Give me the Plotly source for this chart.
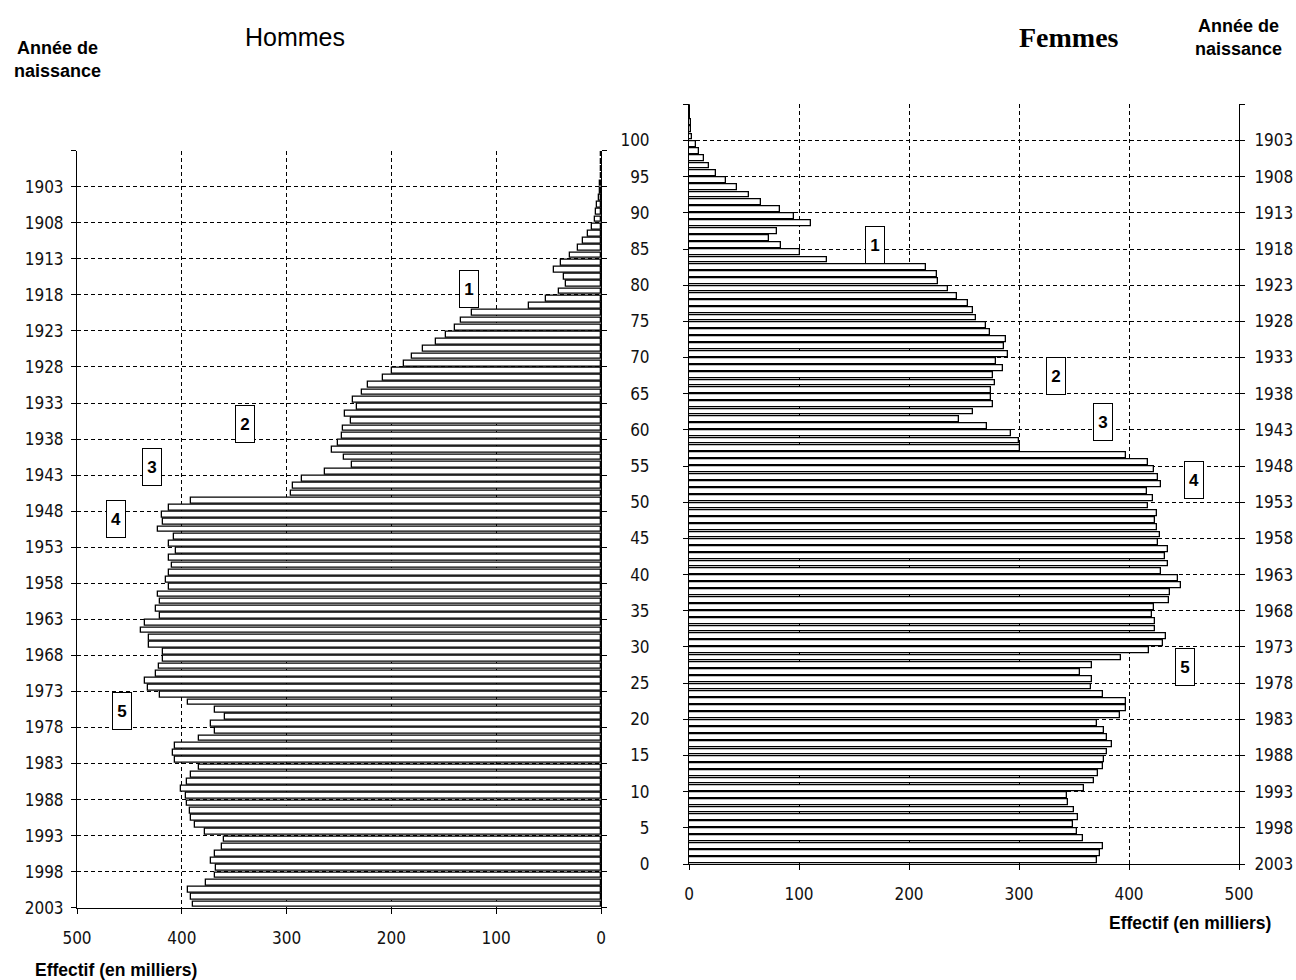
import plotly.graph_objects as go

# ---- data (population in thousands, by age 0..104, France 2004) ----
ages = list(range(0, 105))
hommes = [389.2, 391.5, 393.7, 376.8, 368.5, 367.7, 371.9, 368.5, 362.1, 359.8,
          377.9, 387.0, 391.5, 391.9, 394.9, 396.4, 400.5, 394.9, 391.5, 383.6,
          406.2, 408.4, 406.2, 383.6, 368.5, 371.9, 358.7, 368.5, 393.7, 421.2,
          432.5, 434.8, 424.6, 422.0, 417.9, 417.9, 431.4, 431.4, 439.3, 434.8,
          421.2, 424.6, 421.2, 423.1, 412.2, 415.2, 412.2, 409.2, 412.2, 405.4,
          412.2, 407.7, 422.4, 417.9, 418.6, 411.8, 391.5, 295.8, 293.5, 285.6,
          263.8, 237.8, 245.3, 256.6, 251.3, 247.6, 246.4, 238.9, 244.2, 233.2,
          236.2, 228.3, 222.3, 208.0, 199.3, 188.4, 180.5, 170.3, 157.5, 148.0,
          139.0, 133.4, 123.2, 68.6, 52.4, 40.0, 33.2, 35.4, 44.5, 37.7,
          29.8, 21.9, 17.3, 12.4, 9.0, 5.7, 4.5, 3.4, 2.3, 1.1,
          0.6, 0.4, 0.2, 0.1, 0.05]
femmes = [371.0, 374.0, 376.2, 358.4, 352.7, 349.3, 353.8, 350.4, 344.7, 343.6,
          359.5, 368.3, 371.7, 376.0, 377.4, 379.7, 384.2, 379.7, 377.4, 371.0,
          392.0, 397.0, 397.0, 376.0, 365.0, 366.0, 355.0, 366.0, 392.6, 418.4,
          430.5, 434.0, 424.0, 424.0, 420.6, 423.0, 436.2, 437.4, 447.2, 444.2,
          429.4, 435.8, 432.8, 435.8, 426.4, 427.9, 425.2, 423.7, 425.2, 417.2,
          421.8, 416.0, 429.4, 426.4, 422.5, 417.2, 397.0, 301.0, 300.3, 292.3,
          271.0, 245.6, 257.8, 276.8, 274.5, 274.5, 277.9, 276.8, 285.5, 279.4,
          290.0, 286.6, 287.8, 273.3, 270.3, 261.2, 258.5, 253.2, 243.4, 235.4,
          226.7, 225.5, 215.6, 125.0, 100.6, 83.5, 72.5, 80.0, 110.5, 95.0,
          82.8, 65.0, 54.7, 43.3, 33.8, 24.3, 17.8, 13.3, 8.7, 6.5,
          3.0, 2.0, 1.5, 1.0, 0.5]

age_ticks = list(range(0, 101, 5))
year_labels = [str(2003 - a) for a in age_ticks]
age_labels = [str(a) for a in age_ticks]
value_ticks = [0, 100, 200, 300, 400, 500]

# annotations: (label, value, age)
notes_h = [("1", 126, 85.8), ("2", 340, 67.1), ("3", 428, 61.1), ("4", 463, 53.9), ("5", 457, 27.3)]
notes_f = [("1", 169, 85.6), ("2", 334, 67.4), ("3", 376, 61.1), ("4", 459, 53.1), ("5", 451, 27.2)]

W, H = 1296, 980
def fx(px): return px / W
def fy(py): return 1 - py / H

tickfont = dict(family="Liberation Sans Narrow, Arial Narrow, DejaVu Sans Condensed, sans-serif",
                size=17, color="#111")
bold = "Liberation Sans, Arial, sans-serif"
dash = "4px,3px"

ypos = [a + 0.5 for a in ages]

fig = go.Figure()
fig.add_trace(go.Bar(x=hommes, y=ypos, orientation="h", width=0.8,
                     marker=dict(color="white", line=dict(color="black", width=1.3)),
                     xaxis="x", yaxis="y", showlegend=False))
fig.add_trace(go.Bar(x=femmes, y=ypos, orientation="h", width=0.8,
                     marker=dict(color="white", line=dict(color="black", width=1.3)),
                     xaxis="x2", yaxis="y2", showlegend=False))
fig.add_trace(go.Scatter(x=[None], y=[None], xaxis="x2", yaxis="y3", showlegend=False,
                         hoverinfo="skip"))

ytv = age_ticks + [105]
common_y = dict(range=[0, 105], tickvals=ytv, showgrid=True, gridcolor="black",
                griddash=dash, gridwidth=1, showline=True, linecolor="black", linewidth=1,
                ticks="outside", ticklen=5, tickcolor="black", tickfont=tickfont,
                zeroline=False, automargin=False)
common_x = dict(tickvals=value_ticks, showgrid=True, gridcolor="black", griddash=dash,
                gridwidth=1, showline=True, linecolor="black", linewidth=1,
                ticks="outside", ticklen=5, tickcolor="black", tickfont=tickfont,
                zeroline=False, ticklabelstandoff=10, automargin=False)

fig.update_layout(
    width=W, height=H, margin=dict(l=0, r=0, t=0, b=0, autoexpand=False),
    paper_bgcolor="white", plot_bgcolor="white", bargap=0,
    xaxis=dict(domain=[fx(77), fx(601)], range=[500, 0], anchor="y", **common_x),
    yaxis=dict(domain=[fy(907.7), fy(150.7)], anchor="x", side="left",
               ticktext=year_labels + [""], mirror="ticks", ticklabelstandoff=4, **common_y),
    xaxis2=dict(domain=[fx(689), fx(1239)], range=[0, 500], anchor="y2", **common_x),
    yaxis2=dict(domain=[fy(864), fy(104.3)], anchor="x2", side="left",
                ticktext=age_labels + [""], ticklabelstandoff=30, **common_y),
    yaxis3=dict(overlaying="y2", anchor="x2", side="right", range=[0, 105],
                tickvals=ytv, ticktext=year_labels + [""], showgrid=False,
                showline=True, linecolor="black", linewidth=1, ticks="outside",
                ticklen=5, tickcolor="black", tickfont=tickfont, zeroline=False,
                ticklabelstandoff=6, automargin=False),
)

anns = []
for lab, v, a in notes_h:
    anns.append(dict(x=v, y=a, xref="x", yref="y", text="<b>%s</b>" % lab, showarrow=False,
                     bgcolor="white", bordercolor="black", borderwidth=1, borderpad=0,
                     width=18, height=36, font=dict(family=bold, size=17, color="black")))
for lab, v, a in notes_f:
    anns.append(dict(x=v, y=a, xref="x2", yref="y2", text="<b>%s</b>" % lab, showarrow=False,
                     bgcolor="white", bordercolor="black", borderwidth=1, borderpad=0,
                     width=18, height=36, font=dict(family=bold, size=17, color="black")))

def ptext(px, py, text, font):
    return dict(x=fx(px), y=fy(py), xref="paper", yref="paper", text=text, showarrow=False,
                xanchor="center", yanchor="middle", font=font)

anns += [
    ptext(295, 37, "Hommes", dict(family="Liberation Sans, Arial, sans-serif", size=25, color="black")),
    ptext(1069, 37, "<b>Femmes</b>", dict(family="Liberation Serif, Times New Roman, serif", size=28, color="black")),
    ptext(57, 60, "<b>Année de<br>naissance</b>", dict(family=bold, size=18, color="black")),
    ptext(1238, 37, "<b>Année de<br>naissance</b>", dict(family=bold, size=18, color="black")),
    ptext(116, 970, "<b>Effectif (en milliers)</b>", dict(family=bold, size=17.5, color="black")),
    ptext(1190, 923, "<b>Effectif (en milliers)</b>", dict(family=bold, size=17.5, color="black")),
]
fig.update_layout(annotations=anns)

fig.write_html(
    "out.html",
    config={"displayModeBar": False},
    post_script="document.body.style.margin='0';"
                "document.documentElement.style.overflow='hidden';"
                "document.body.style.overflow='hidden';",
)
